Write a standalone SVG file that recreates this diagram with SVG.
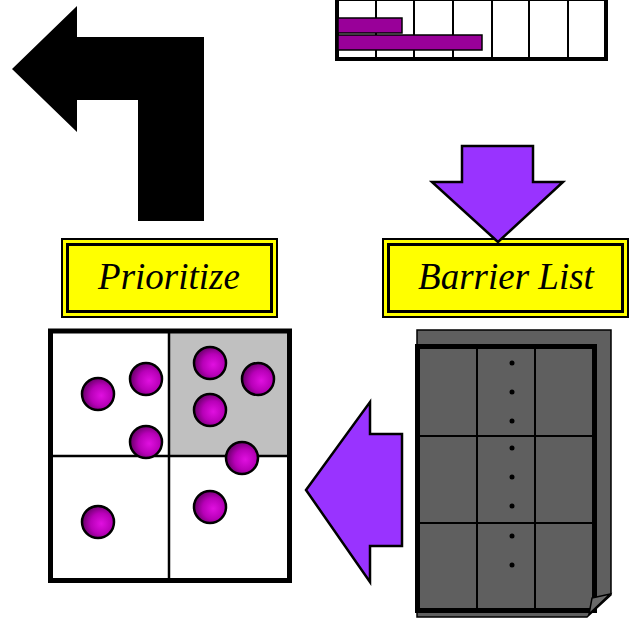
<svg xmlns="http://www.w3.org/2000/svg" width="631" height="620" viewBox="0 0 631 620">
  <defs>
    <radialGradient id="ball" cx="60%" cy="55%" r="60%">
      <stop offset="0" stop-color="#e010e0"/>
      <stop offset="0.55" stop-color="#b800b8"/>
      <stop offset="1" stop-color="#660066"/>
    </radialGradient>
    <style>
      .label-outer { fill: #ffff00; stroke: #000; stroke-width: 2; }
      .label-inner { fill: #ffff00; stroke: #000; stroke-width: 3; }
      .label-text { font-family: "Liberation Serif", "Times New Roman", serif; font-style: italic; font-size: 37px; fill: #000; text-anchor: middle; }
      .purple-arrow { fill: #9933ff; stroke: #000; stroke-width: 2.5; stroke-linejoin: miter; }
      .bar { fill: #990099; stroke: #000; stroke-width: 1.5; }
      .ball { fill: url(#ball); stroke: #000; stroke-width: 2.5; }
      .page { fill: #5f5f5f; stroke: #000; }
      .dot { fill: #000; }
    </style>
  </defs>

  <rect width="631" height="620" fill="#fff"/>

  <!-- schedule chart -->
  <g id="chart">
    <rect x="337" y="-1" width="269" height="60" fill="#fff" stroke="#000" stroke-width="4"/>
    <g stroke="#000" stroke-width="2">
      <line x1="376" y1="0" x2="376" y2="58"/>
      <line x1="414" y1="0" x2="414" y2="58"/>
      <line x1="453" y1="0" x2="453" y2="58"/>
      <line x1="492" y1="0" x2="492" y2="58"/>
      <line x1="529" y1="0" x2="529" y2="58"/>
      <line x1="568" y1="0" x2="568" y2="58"/>
    </g>
    <rect class="bar" x="338" y="18" width="64" height="15"/>
    <rect class="bar" x="338" y="35" width="144" height="15"/>
  </g>

  <!-- labels -->
  <g id="label-prioritize">
    <rect class="label-outer" x="62" y="239" width="215" height="78"/>
    <rect class="label-inner" x="67.5" y="244.5" width="204" height="67"/>
    <text class="label-text" x="169" y="289">Prioritize</text>
  </g>
  <g id="label-barrier-list">
    <rect class="label-outer" x="383" y="239" width="245" height="78"/>
    <rect class="label-inner" x="388.5" y="244.5" width="234" height="67"/>
    <text class="label-text" x="506" y="289">Barrier List</text>
  </g>

  <!-- priority matrix -->
  <g id="matrix">
    <rect x="50.5" y="331" width="239" height="249.5" fill="#fff"/>
    <rect x="169" y="331" width="120.5" height="125" fill="#c0c0c0"/>
    <line x1="169" y1="331" x2="169" y2="580" stroke="#000" stroke-width="2.5"/>
    <line x1="50" y1="456" x2="290" y2="456" stroke="#000" stroke-width="2.5"/>
    <rect x="50.5" y="331" width="239" height="249.5" fill="none" stroke="#000" stroke-width="5"/>
    <circle class="ball" cx="98" cy="394" r="16"/>
    <circle class="ball" cx="146" cy="379" r="16"/>
    <circle class="ball" cx="146" cy="442" r="16"/>
    <circle class="ball" cx="210" cy="363" r="16"/>
    <circle class="ball" cx="258" cy="379" r="16"/>
    <circle class="ball" cx="210" cy="410" r="16"/>
    <circle class="ball" cx="242" cy="458" r="16"/>
    <circle class="ball" cx="210" cy="507" r="16"/>
    <circle class="ball" cx="98" cy="522" r="16"/>
  </g>

  <!-- barrier list document -->
  <g id="barrier-doc">
    <path class="page" stroke-width="1.5" d="M417,330 H611 V595 L587,617 H417 Z"/>
    <rect class="page" x="417.5" y="346.5" width="177" height="264" stroke-width="5"/>
    <g stroke="#000" stroke-width="2">
      <line x1="477" y1="347" x2="477" y2="610"/>
      <line x1="535" y1="347" x2="535" y2="610"/>
      <line x1="418" y1="436" x2="594" y2="436"/>
      <line x1="418" y1="523" x2="594" y2="523"/>
    </g>
    <polygon points="592,598 610,594 589,614" fill="#6a6a6a" stroke="#000" stroke-width="1.5"/>
    <circle class="dot" cx="512" cy="363" r="2.5"/>
    <circle class="dot" cx="512" cy="392" r="2.5"/>
    <circle class="dot" cx="512" cy="421" r="2.5"/>
    <circle class="dot" cx="512" cy="448" r="2.5"/>
    <circle class="dot" cx="512" cy="477" r="2.5"/>
    <circle class="dot" cx="512" cy="506" r="2.5"/>
    <circle class="dot" cx="512" cy="536" r="2.5"/>
    <circle class="dot" cx="512" cy="565" r="2.5"/>
  </g>

  <!-- connectors -->
  <g id="connectors">
    <polygon id="arrow-turn" fill="#000" points="12,69 77,6 77,37 204,37 204,221 138,221 138,100 77,100 77,132"/>
    <polygon id="arrow-down" class="purple-arrow" points="462,146 533,146 533,182 563,182 498,242 432,182 462,182"/>
    <polygon id="arrow-left" class="purple-arrow" points="306,490 370,402 370,434 402,434 402,546 370,546 370,582"/>
  </g>
</svg>
